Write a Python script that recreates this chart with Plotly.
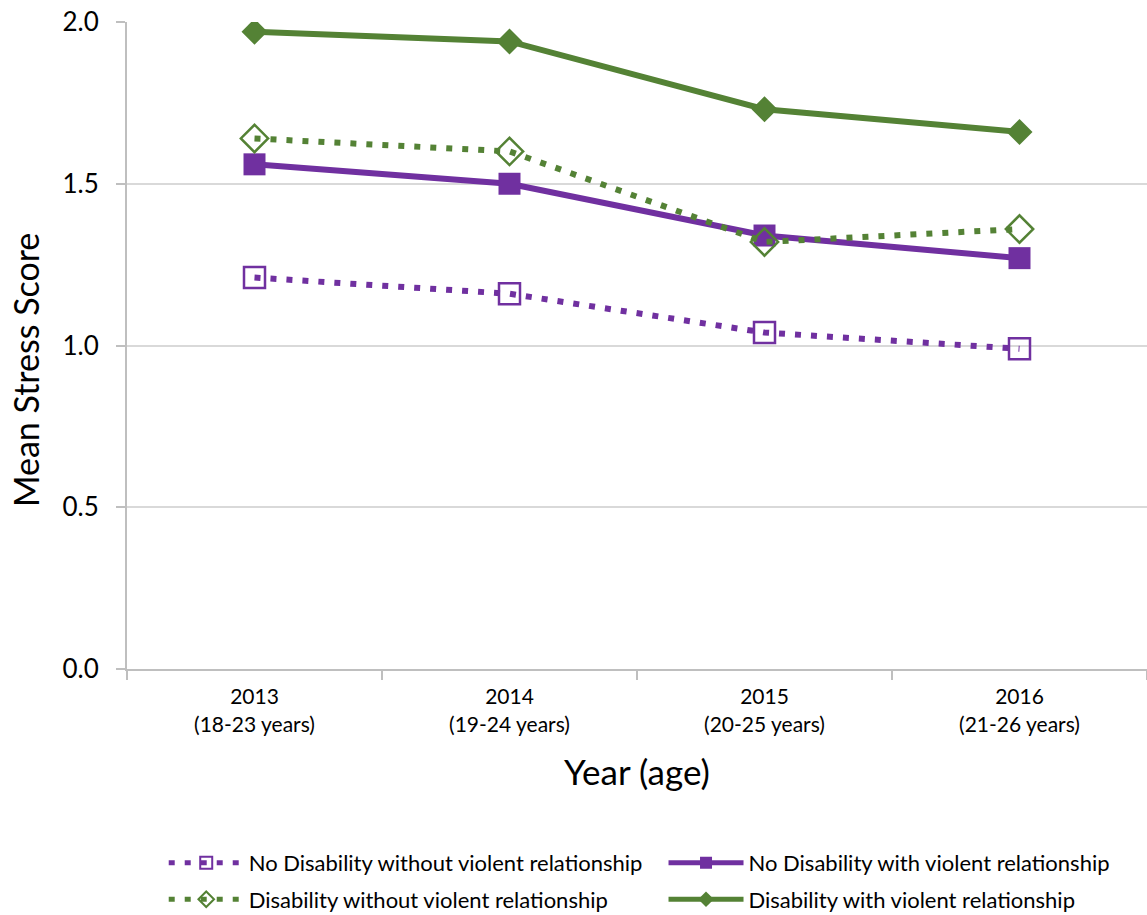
import plotly.graph_objects as go

# Survey waves with participant age range
years = ["2013<br>(18-23 years)", "2014<br>(19-24 years)",
         "2015<br>(20-25 years)", "2016<br>(21-26 years)"]

no_dis_without = [1.21, 1.16, 1.04, 0.99]
no_dis_with = [1.56, 1.50, 1.34, 1.27]
dis_without = [1.64, 1.60, 1.32, 1.36]
dis_with = [1.97, 1.94, 1.73, 1.66]

PURPLE = "#7030A0"
GREEN = "#548235"
FONT = "Lato"

fig = go.Figure()

fig.add_trace(go.Scatter(
    x=years, y=no_dis_without, mode="lines+markers",
    name="No Disability without violent relationship", legend="legend",
    line=dict(color=PURPLE, width=6, dash="6px,10px"),
    marker=dict(symbol="square-open", size=21, color=PURPLE,
                line=dict(color=PURPLE, width=2.5)),
))
fig.add_trace(go.Scatter(
    x=years, y=no_dis_with, mode="lines+markers",
    name="No Disability with violent relationship", legend="legend2",
    line=dict(color=PURPLE, width=6),
    marker=dict(symbol="square", size=22, color=PURPLE),
))
fig.add_trace(go.Scatter(
    x=years, y=dis_without, mode="lines+markers",
    name="Disability without violent relationship", legend="legend3",
    line=dict(color=GREEN, width=6, dash="6px,10px"),
    marker=dict(symbol="diamond-open", size=21, color=GREEN,
                line=dict(color=GREEN, width=2.5)),
))
fig.add_trace(go.Scatter(
    x=years, y=dis_with, mode="lines+markers",
    name="Disability with violent relationship", legend="legend4",
    line=dict(color=GREEN, width=6),
    marker=dict(symbol="diamond", size=20, color=GREEN),
))


def legend_box(x, y):
    return dict(
        x=x, y=y, xanchor="left", yanchor="middle", yref="container",
        itemwidth=75, itemsizing="constant",
        font=dict(size=22, family=FONT, color="#000000"),
        bgcolor="rgba(0,0,0,0)",
    )


fig.update_layout(
    width=1147, height=915,
    margin=dict(l=127, r=0, t=22, b=246),
    paper_bgcolor="white", plot_bgcolor="white",
    font=dict(family=FONT, color="#000000"),
    showlegend=True,
    legend=legend_box(0.036, 0.057),
    legend2=legend_box(0.526, 0.057),
    legend3=legend_box(0.036, 0.017),
    legend4=legend_box(0.526, 0.017),
    xaxis=dict(
        title=dict(text="Year (age)", font=dict(size=35), standoff=26),
        tickfont=dict(size=21),
        ticklabelstandoff=8,
        range=[-0.5, 3.5],
        showline=True, linecolor="#BFBFBF", linewidth=2,
        ticks="outside", tickson="boundaries", ticklen=9,
        tickcolor="#BFBFBF", tickwidth=2,
        showgrid=False, zeroline=False,
    ),
    yaxis=dict(
        tickfont=dict(size=26),
        ticklabelstandoff=12,
        range=[0, 2.0], tickvals=[0, 0.5, 1.0, 1.5, 2.0],
        tickformat=".1f",
        showline=True, linecolor="#BFBFBF", linewidth=2,
        ticks="outside", ticklen=9, tickcolor="#BFBFBF", tickwidth=2,
        showgrid=True, gridcolor="#D9D9D9", gridwidth=2,
        zeroline=False,
    ),
    annotations=[dict(
        text="Mean Stress Score", textangle=-90,
        xref="paper", yref="paper", x=-0.1, y=0.462,
        xanchor="center", yanchor="middle", showarrow=False,
        font=dict(size=34, family=FONT, color="#000000"),
    )],
)

fig.write_html("out.html")
